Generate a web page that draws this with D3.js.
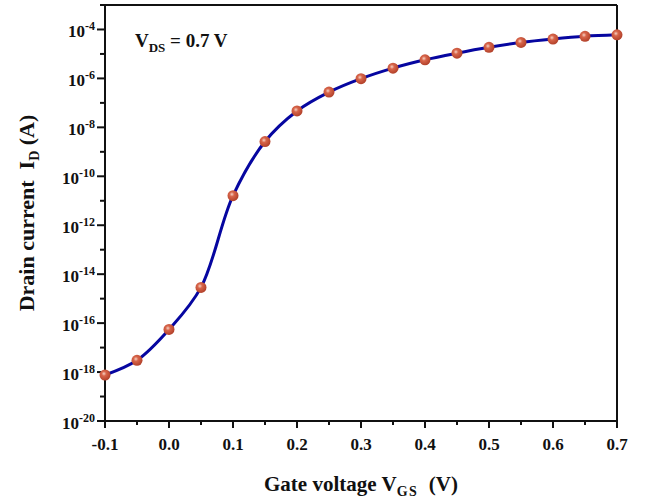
<!DOCTYPE html>
<html><head><meta charset="utf-8">
<script src="https://cdn.jsdelivr.net/npm/d3@7"></script>
<style>
html,body{margin:0;padding:0;background:#fff;}
text{font-family:"Liberation Serif","Times New Roman",serif;font-weight:bold;fill:#111;}
</style></head>
<body><svg id="chart" width="652" height="504"></svg>
<script>
const vgs = [-0.1,-0.05,0,0.05,0.1,0.15,0.2,0.25,0.3,0.35,0.4,0.45,0.5,0.55,0.6,0.65,0.7];
const logId = [-18.12,-17.52,-16.26,-14.54,-10.79,-8.58,-7.33,-6.56,-6.01,-5.58,-5.24,-4.97,-4.73,-4.53,-4.39,-4.28,-4.22];
const xTicks = [-0.1,0,0.1,0.2,0.3,0.4,0.5,0.6,0.7];
const yTickExps = [-20,-18,-16,-14,-12,-10,-8,-6,-4];

const svg = d3.select("#chart");
const L=105,R=617,T=5,B=421;
const x = d3.scaleLinear().domain([-0.1,0.7]).range([L,R]);
const y = d3.scaleLog().domain([1e-20,1e-3]).range([B,T]);

const defs = svg.append("defs");
const g = defs.append("radialGradient").attr("id","ball").attr("cx","40%").attr("cy","38%").attr("r","60%");
g.append("stop").attr("offset","0%").attr("stop-color","#f6d2c4");
g.append("stop").attr("offset","35%").attr("stop-color","#d8654a");
g.append("stop").attr("offset","100%").attr("stop-color","#b4432c");

// frame
svg.append("line").attr("x1",L).attr("x2",R).attr("y1",T).attr("y2",T).attr("stroke","#111").attr("stroke-width",2);
svg.append("line").attr("x1",R).attr("x2",R).attr("y1",T).attr("y2",B).attr("stroke","#111").attr("stroke-width",2);

// x axis
const xMinor = d3.range(-0.05,0.7,0.1);
const xa = svg.append("g").attr("transform",`translate(0,${B})`);
xa.append("line").attr("x1",L).attr("x2",R).attr("stroke","#111").attr("stroke-width",2);
xa.selectAll(".maj").data(xTicks).join("line").attr("x1",d=>x(d)).attr("x2",d=>x(d)).attr("y1",0).attr("y2",7).attr("stroke","#111").attr("stroke-width",2);
xa.selectAll(".min").data(xMinor).join("line").attr("x1",d=>x(d)).attr("x2",d=>x(d)).attr("y1",0).attr("y2",4).attr("stroke","#111").attr("stroke-width",2);
xa.selectAll("text").data(xTicks).join("text").attr("x",d=>x(d)).attr("y",29).attr("text-anchor","middle").attr("font-size",17).text(d=>d.toFixed(1));

// y axis
const yMinor = d3.range(-19,-2,2);
const ya = svg.append("g");
ya.append("line").attr("x1",L).attr("x2",L).attr("y1",T).attr("y2",B).attr("stroke","#111").attr("stroke-width",2);
ya.selectAll(".maj").data(yTickExps).join("line").attr("x1",L-8).attr("x2",L).attr("y1",d=>y(Math.pow(10,d))).attr("y2",d=>y(Math.pow(10,d))).attr("stroke","#111").attr("stroke-width",2);
ya.selectAll(".min").data(yMinor).join("line").attr("x1",L-5).attr("x2",L).attr("y1",d=>y(Math.pow(10,d))).attr("y2",d=>y(Math.pow(10,d))).attr("stroke","#111").attr("stroke-width",2);
const yl = ya.selectAll("text").data(yTickExps).join("text").attr("x",L-10).attr("y",d=>y(Math.pow(10,d))+8).attr("text-anchor","end").attr("font-size",17);
yl.append("tspan").text("10");
yl.append("tspan").attr("dy",-7).attr("font-size",12).text(d=>String(d));

// line
const line = d3.line().x((d,i)=>x(vgs[i])).y(d=>y(Math.pow(10,d))).curve(d3.curveCatmullRom.alpha(0.5));
svg.append("path").datum(logId).attr("d",line).attr("fill","none").attr("stroke","#0606a0").attr("stroke-width",3);
svg.selectAll(".pt").data(logId).join("circle").attr("cx",(d,i)=>x(vgs[i])).attr("cy",d=>y(Math.pow(10,d))).attr("r",5.5).attr("fill","url(#ball)");

// annotation
const an = svg.append("text").attr("x",135).attr("y",47).attr("font-size",19);
an.append("tspan").text("V");
an.append("tspan").attr("dy",5).attr("font-size",13).text("DS");
an.append("tspan").attr("dy",-5).text(" = 0.7 V");

// axis titles
const xt = svg.append("text").attr("x",361).attr("y",491).attr("text-anchor","middle").attr("font-size",21);
xt.append("tspan").text("Gate voltage V");
xt.append("tspan").attr("dy",5).attr("font-size",14).attr("letter-spacing",1.5).text("GS");
xt.append("tspan").attr("dy",-5).attr("xml:space","preserve").text("  (V)");

const yt = svg.append("text").attr("transform","translate(34,213) rotate(-90)").attr("text-anchor","middle").attr("font-size",22);
yt.append("tspan").attr("xml:space","preserve").text("Drain current  I");
yt.append("tspan").attr("dy",5).attr("font-size",14).text("D");
yt.append("tspan").attr("dy",-5).text(" (A)");
</script></body></html>
